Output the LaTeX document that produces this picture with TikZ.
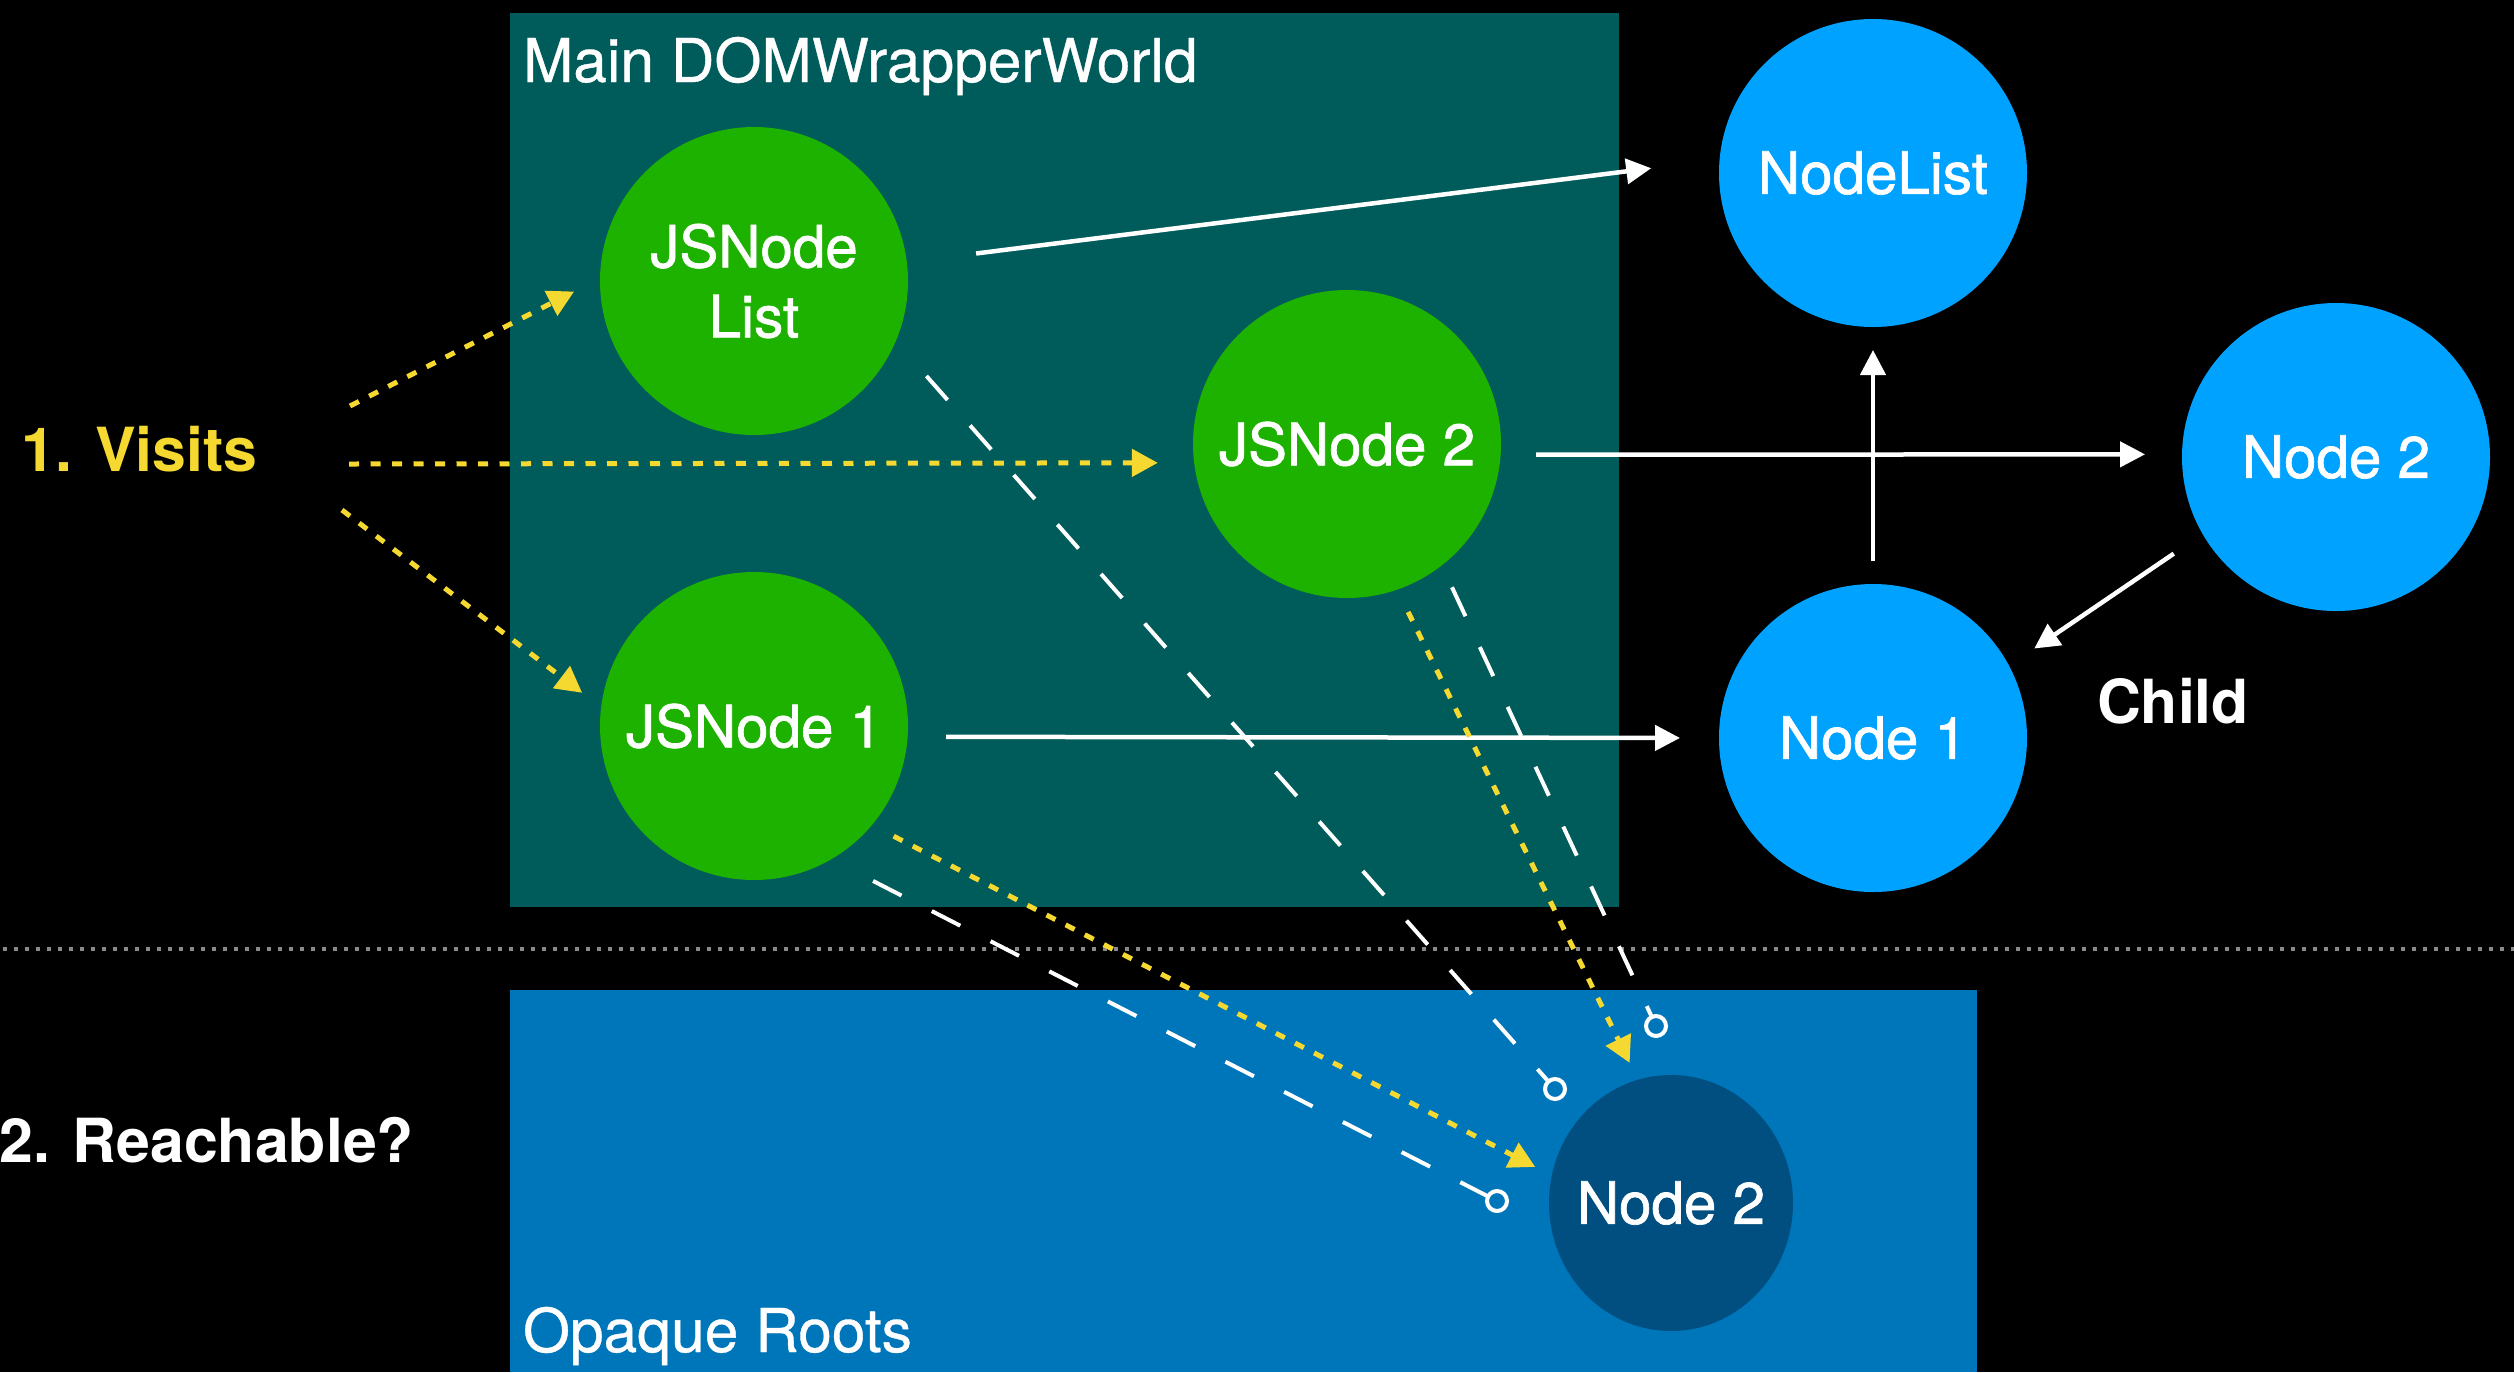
\documentclass[tikz,border=0pt]{standalone}
\usepackage{fontspec}
\setmainfont{TeX Gyre Heros}
\newfontfamily\heavyheros[FakeBold=1.2]{TeX Gyre Heros}
\newfontfamily\semiheros[FakeBold=0.6]{TeX Gyre Heros}
\usetikzlibrary{arrows.meta,shapes.geometric}
\definecolor{worldteal}{HTML}{005B5B}
\definecolor{rootblue}{HTML}{0076BA}
\definecolor{jsgreen}{HTML}{1DB100}
\definecolor{domblue}{HTML}{00A2FF}
\definecolor{deepblue}{HTML}{004F80}
\definecolor{visityellow}{HTML}{F6D930}
\definecolor{sepgray}{HTML}{8A8A8A}
\newcommand\circfont{\heavyheros\fontsize{16.6}{19.9}\selectfont}
\newcommand\boldlabel{\fontsize{17.3}{21}\selectfont\bfseries}
\newcommand\boxfont{\semiheros\fontsize{17.2}{20}\selectfont}

\begin{document}
\begin{tikzpicture}[x=0.1mm,y=-0.1mm,
  blob/.style={circle, minimum size=30.8mm, inner sep=0pt, outer sep=0pt,
    text=white, font=\circfont, align=center},
  jsnode/.style={blob, fill=jsgreen},
  domnode/.style={blob, fill=domblue},
  endring/.style={circle, draw=white, line width=0.4mm, minimum size=2mm,
    inner sep=0pt, outer sep=0pt},
  strong/.style={draw=white, line width=0.45mm,
    -{Triangle[length=2.5mm,width=2.5mm]}},
  visit/.style={draw=visityellow, line width=0.5mm,
    dash pattern=on 1mm off 1.15mm,
    -{Triangle[length=2.6mm,width=2.7mm]}},
  opaque/.style={draw=white, line width=0.4mm, dash pattern=on 3.2mm off 3.4mm},
  trims/.style 2 args={shorten <=#1, shorten >=#2},
  lbl/.style={text=white, inner sep=0pt, outer sep=0pt},
]
% canvas
\fill[black] (0,0) rectangle (2514,1372);
\useasboundingbox (0,0) rectangle (2514,1372);
\clip (0,0) rectangle (2514,1372);

% the two regions
\fill[worldteal] (510,13) rectangle (1619,907);
\fill[rootblue] (510,990) rectangle (1977,1372);
\node[lbl, font=\boxfont, anchor=base west] (worldlbl) at (523,82) {Main DOMWrapperWorld};
\node[lbl, font=\boxfont, anchor=base west] (rootslbl) at (523,1352) {Opaque Roots};

% separator between the marking phases
\draw[sepgray, line width=0.45mm, dash pattern=on 0.45mm off 0.65mm] (3,949) -- (2514,949);

% wrappers
\node[jsnode] (jsl) at (754,281) {JSNode\\List};
\node[jsnode] (js2) at (1347,444) {JSNode 2};
\node[jsnode] (js1) at (754,726) {JSNode 1};

% DOM objects
\node[domnode] (nl) at (1873,173) {NodeList};
\node[domnode] (n2) at (2336,457) {Node 2};
\node[domnode] (n1) at (1873,738) {Node 1};
\node[ellipse, fill=deepblue, minimum width=24.4mm, minimum height=25.6mm,
  inner sep=0pt, outer sep=0pt,
  label={[lbl, font=\circfont]center:Node 2}] (n2b) at (1671,1203) {};

% side labels
\node[lbl, text=visityellow, font=\boldlabel, anchor=base west] (visits) at (22,471) {1. Visits};
\node[lbl, font=\boldlabel, anchor=base east] (reach) at (414,1162) {2. Reachable?};
\node[lbl, font=\boldlabel, anchor=base west] (child) at (2097,723) {Child};

% starting points of the visits
\coordinate (v1) at (350,406);
\coordinate (v2) at (349,464);
\coordinate (v3) at (342,510);

% opaque root markers
\node[endring] (o1) at (1555,1089) {};
\node[endring] (o2) at (1656,1026) {};
\node[endring] (o3) at (1497,1201) {};

% strong references
\draw[strong, trims={6.98mm}{6.89mm}] (jsl.7.3) -- (nl.175.8);
\draw[strong, trims={3.54mm}{3.7mm}] (js2.-4.1) -- (n2.179.3);
\draw[strong, trims={2.3mm}{2.3mm}] (n1.north) -- (nl.south);
\draw[strong, trims={3.49mm}{3.06mm}] (n2.210.2) -- (n1.28.3);
\draw[strong, trims={3.85mm}{3.9mm}] (js1.-4.5) -- (n1.180);

% opaque root links
\draw[opaque, shorten <=4.64mm] (jsl.-23.5) -- (o1);
\draw[opaque, shorten <=2.41mm] (js2.-52.5) -- (o2);
\draw[opaque, shorten <=4.73mm] (js1.-60.9) -- (o3);

% visits
\draw[visit, shorten >=2.91mm] (v1) -- (jsl.179.6);
\draw[visit, shorten >=3.63mm] (v2) -- (js2.187.5);
\draw[visit, shorten >=2.39mm] (v3) -- (js1.173.5);
\draw[visit, trims={2.49mm}{1.89mm}] (js2.-71) -- (n2b.105.3);
\draw[visit, trims={2.44mm}{1.87mm}] (js1.-40.4) -- (n2b.167.5);
\end{tikzpicture}
\end{document}
